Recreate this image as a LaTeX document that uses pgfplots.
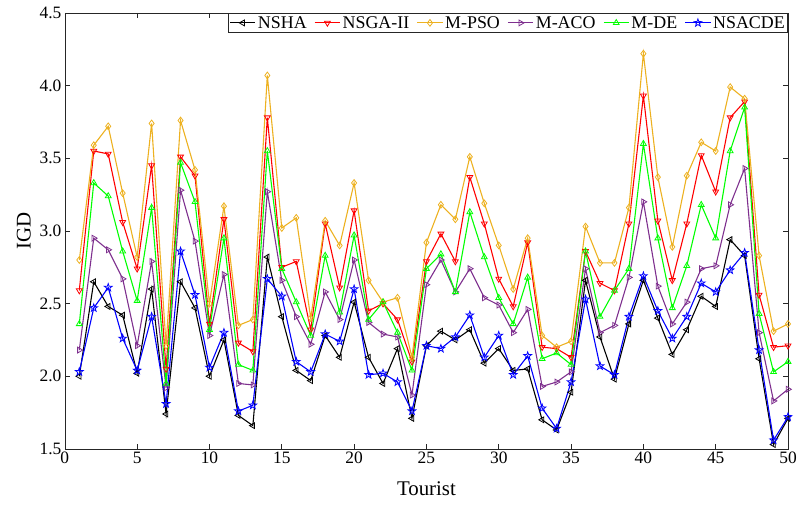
\documentclass[border=0pt]{standalone}
\usepackage{fontspec}
\setmainfont{Liberation Serif}
\usepackage{pgfplots}
\pgfplotsset{compat=1.18}
\usepackage{pgfplotstable}
\definecolor{cpso}{RGB}{237,177,32}
\definecolor{caco}{RGB}{126,47,142}
\definecolor{cde}{RGB}{0,255,0}
\definecolor{cax}{RGB}{38,38,38}
\pgfdeclareplotmark{pentagram}{%
  \pgfpathmoveto{\pgfpointpolar{90}{1.2\pgfplotmarksize}}%
  \pgfpathlineto{\pgfpointpolar{126}{0.48\pgfplotmarksize}}%
  \pgfpathlineto{\pgfpointpolar{162}{1.2\pgfplotmarksize}}%
  \pgfpathlineto{\pgfpointpolar{198}{0.48\pgfplotmarksize}}%
  \pgfpathlineto{\pgfpointpolar{234}{1.2\pgfplotmarksize}}%
  \pgfpathlineto{\pgfpointpolar{270}{0.48\pgfplotmarksize}}%
  \pgfpathlineto{\pgfpointpolar{306}{1.2\pgfplotmarksize}}%
  \pgfpathlineto{\pgfpointpolar{342}{0.48\pgfplotmarksize}}%
  \pgfpathlineto{\pgfpointpolar{18}{1.2\pgfplotmarksize}}%
  \pgfpathlineto{\pgfpointpolar{54}{0.48\pgfplotmarksize}}%
  \pgfpathclose\pgfusepathqstroke}
\pgfplotstableread{
x NSHA NSGA MPSO MACO MDE NSACDE
1 2.00 2.59 2.80 2.18 2.36 2.03
2 2.65 3.55 3.59 2.95 3.33 2.47
3 2.48 3.53 3.72 2.87 3.24 2.61
4 2.42 3.06 3.26 2.67 2.86 2.26
5 2.02 2.74 2.82 2.21 2.52 2.04
6 2.60 3.45 3.74 2.79 3.16 2.41
7 1.74 2.05 2.21 1.92 1.95 1.81
8 2.65 3.51 3.76 3.28 3.47 2.86
9 2.47 3.38 3.42 2.93 3.20 2.56
10 2.00 2.36 2.50 2.28 2.32 2.06
11 2.25 3.08 3.17 2.70 2.95 2.30
12 1.73 2.23 2.35 1.95 2.08 1.76
13 1.66 2.17 2.39 1.94 2.04 1.80
14 2.82 3.78 4.07 3.27 3.55 2.67
15 2.41 2.75 3.02 2.66 2.74 2.55
16 2.04 2.79 3.09 2.41 2.51 2.10
17 1.97 2.32 2.40 2.22 2.28 2.03
18 2.28 3.05 3.07 2.58 2.83 2.29
19 2.13 2.61 2.90 2.39 2.44 2.24
20 2.51 3.14 3.33 2.80 2.97 2.60
21 2.13 2.45 2.66 2.37 2.39 2.01
22 1.95 2.50 2.51 2.29 2.51 2.02
23 2.19 2.39 2.54 2.27 2.30 1.96
24 1.71 2.10 2.13 1.87 2.04 1.76
25 2.21 2.79 2.92 2.63 2.74 2.21
26 2.31 2.98 3.18 2.80 2.84 2.19
27 2.25 2.79 3.08 2.58 2.58 2.27
28 2.32 3.37 3.51 2.74 3.13 2.42
29 2.09 3.05 3.19 2.54 2.82 2.13
30 2.19 2.67 2.90 2.49 2.54 2.28
31 2.04 2.48 2.60 2.30 2.36 2.01
32 2.05 2.92 2.95 2.46 2.68 2.14
33 1.70 2.20 2.28 1.93 2.12 1.78
34 1.63 2.19 2.20 1.96 2.16 1.64
35 1.89 2.13 2.24 2.03 2.08 1.96
36 2.66 2.86 3.03 2.74 2.86 2.53
37 2.27 2.64 2.78 2.30 2.41 2.07
38 1.98 2.59 2.78 2.35 2.59 2.01
39 2.36 3.05 3.16 2.68 2.74 2.41
40 2.66 3.93 4.22 3.20 3.60 2.69
41 2.40 3.07 3.37 2.62 2.95 2.45
42 2.15 2.66 2.89 2.36 2.47 2.26
43 2.32 3.05 3.38 2.51 2.76 2.41
44 2.55 3.52 3.61 2.74 3.18 2.64
45 2.48 3.27 3.55 2.76 2.95 2.58
46 2.94 3.78 3.99 3.18 3.55 2.73
47 2.83 3.89 3.91 3.43 3.85 2.85
48 2.12 2.56 2.83 2.30 2.43 2.18
49 1.53 2.20 2.31 1.83 2.03 1.56
50 1.71 2.21 2.36 1.91 2.10 1.72
}\data
\begin{document}
\begin{tikzpicture}
\path[use as bounding box] (-65bp,-62bp) rectangle (734bp,450bp);
\begin{axis}[
  at={(0,0)}, anchor=south west,
  scale only axis,
  width=725bp, height=437bp,
  xmin=0, xmax=50, ymin=1.5, ymax=4.5,
  xtick={0,5,...,50},
  ytick={1.5,2,...,4.5},
  yticklabel style={/pgf/number format/fixed,/pgf/number format/fixed zerofill,/pgf/number format/precision=1},
  /pgf/number format/assume math mode=true,
  tick label style={font=\fontsize{17.5}{20}\selectfont, text=black},
  label style={font=\fontsize{21}{23}\selectfont},
  xlabel={Tourist}, ylabel={IGD},
  xlabel style={yshift=-11pt},
  ylabel style={yshift=2pt},
  axis line style={cax, line width=0.6pt},
  tick style={cax, line width=0.6pt},
  major tick length=5bp,
  tick align=inside,
  legend columns=6,
  legend style={font=\fontsize{18}{20}\selectfont, draw=cax, line width=0.6pt, inner sep=1pt, at={(1,1)}, anchor=north east, /tikz/every even column/.append style={column sep=5.5pt}},
  legend image code/.code={\draw[mark repeat=2,mark phase=2] plot coordinates {(0cm,0cm) (0.45cm,0cm) (0.9cm,0cm)};},
  legend cell align=left,
  every axis plot/.append style={line width=1.1pt, mark size=3.4pt},
]
\addplot[black, mark=triangle, mark options={rotate=90, line width=0.8pt}] table[x=x,y=NSHA]{\data};
\addlegendentry{NSHA}
\addplot[red, mark=triangle, mark options={rotate=180, line width=0.8pt}] table[x=x,y=NSGA]{\data};
\addlegendentry{NSGA-II}
\addplot[cpso, mark=diamond, mark options={line width=0.8pt}] table[x=x,y=MPSO]{\data};
\addlegendentry{M-PSO}
\addplot[caco, mark=triangle, mark options={rotate=-90, line width=0.8pt}] table[x=x,y=MACO]{\data};
\addlegendentry{M-ACO}
\addplot[cde, mark=triangle, mark options={line width=0.8pt}] table[x=x,y=MDE]{\data};
\addlegendentry{M-DE}
\addplot[blue, mark=pentagram, mark options={line width=0.8pt}] table[x=x,y=NSACDE]{\data};
\addlegendentry{NSACDE}
\end{axis}
\end{tikzpicture}
\end{document}
